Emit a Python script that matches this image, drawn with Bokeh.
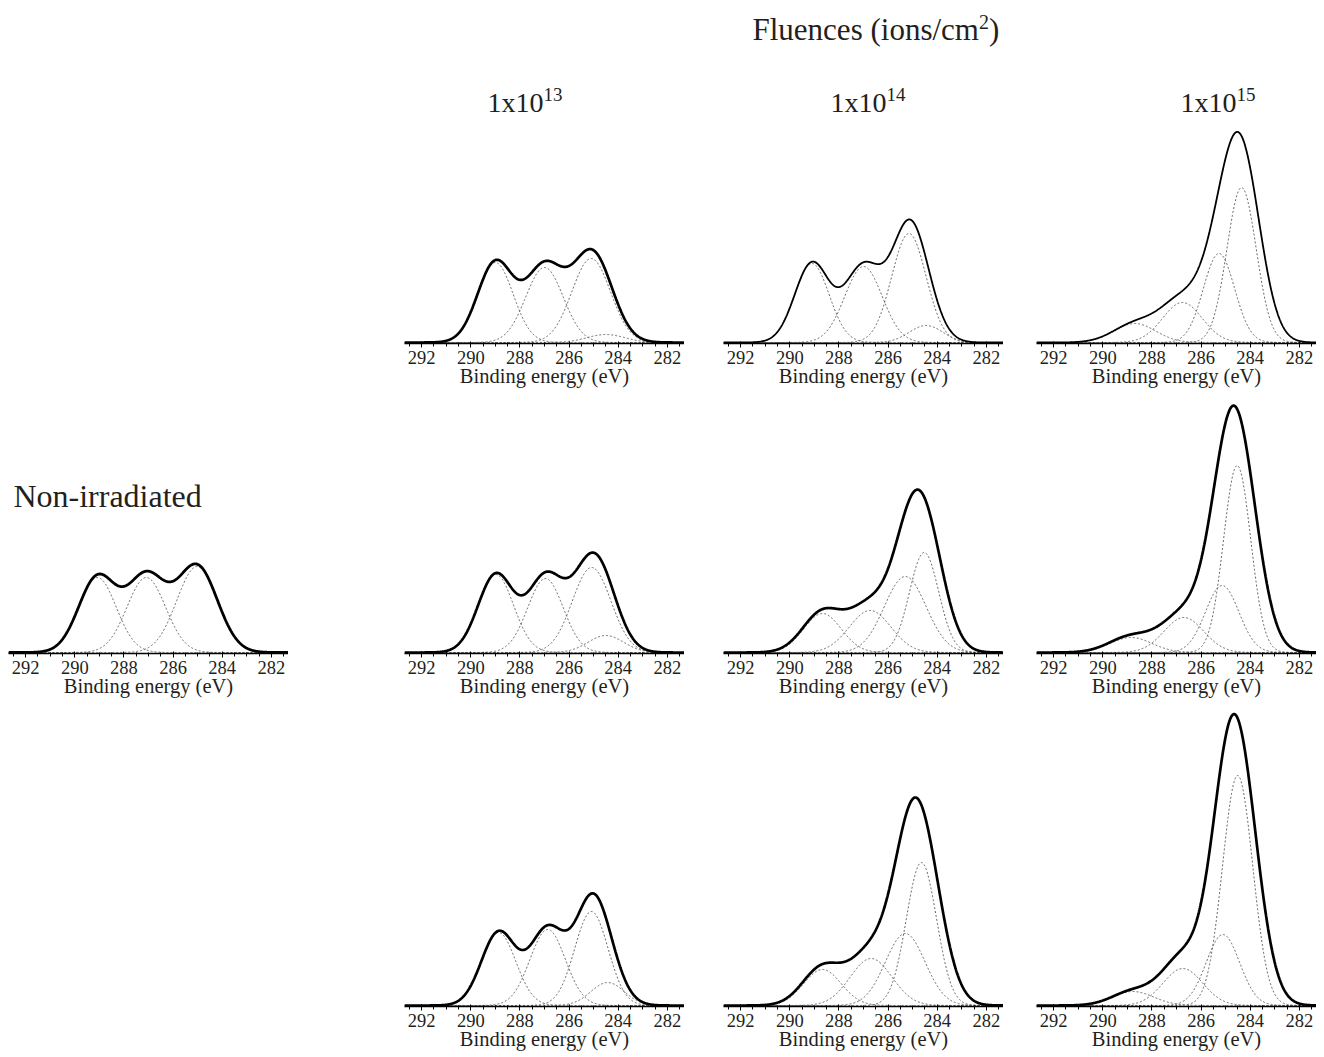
import numpy as np
from bokeh.plotting import figure
from bokeh.layouts import column, row
from bokeh.models import Range1d, FixedTicker, Spacer
from bokeh.core.properties import value
from bokeh.embed import file_html
from bokeh.resources import INLINE

# ---------------- data ----------------
x_major_ticks = [282, 284, 286, 288, 290, 292]
x_minor_ticks = [281.5, 282.5, 283.0, 283.5, 284.5, 285.0, 285.5, 286.5, 287.0, 287.5,
                 288.5, 289.0, 289.5, 290.5, 291.0, 291.5, 292.5]
x_label = "Binding energy (eV)"
main_title = "Fluences (ions/cm"
main_title_sup = "2"
col_title_base = ["1x10", "1x10", "1x10"]
col_title_exp = ["13", "14", "15"]
row_label = "Non-irradiated"

# fitted component peaks (dotted): centre (eV), height (a.u.), FWHM (eV)
# measured envelope (solid): height / FWHM of its contributions at the same centres
ni_center = [289.08, 287.09, 285.02]
ni_height = [75, 75, 86]
ni_fwhm = [1.8, 1.85, 1.95]

a13_center = [289.0, 287.0, 285.1, 284.5]
a13_height = [80, 75, 84, 8]
a13_fwhm = [1.7, 1.8, 1.85, 1.8]

a14_center = [289.1, 287.0, 285.15, 284.45]
a14_height = [79, 76, 109, 17]
a14_fwhm = [1.65, 1.8, 1.65, 1.6]

a15_center = [288.7, 286.76, 285.27, 284.35]
a15_height = [19, 40, 89, 155]
a15_fwhm = [2.0, 1.9, 1.5, 1.4]
a15_env_height = [18, 42, 57, 180]
a15_env_fwhm = [2.1, 2.1, 1.7, 1.8]

b13_center = [288.98, 286.96, 285.08, 284.5]
b13_height = [78, 74, 85, 17]
b13_fwhm = [1.7, 1.7, 1.85, 1.7]

b14_center = [288.67, 286.73, 285.3, 284.53]
b14_height = [39, 42, 76, 100]
b14_fwhm = [1.8, 2.0, 2.0, 1.4]
b14_env_height = [40, 46, 55, 125]
b14_env_fwhm = [1.9, 2.0, 1.6, 1.8]

b15_center = [288.85, 286.7, 285.14, 284.53]
b15_height = [15, 35, 67, 187]
b15_fwhm = [2.0, 1.9, 1.6, 1.3]
b15_env_height = [16, 38, 52, 205]
b15_env_fwhm = [2.1, 2.1, 1.7, 1.9]

c13_center = [288.87, 286.87, 285.09, 284.43]
c13_height = [73, 76, 94, 23]
c13_fwhm = [1.65, 1.7, 1.6, 1.6]

c14_center = [288.67, 286.69, 285.3, 284.64]
c14_height = [36, 47, 72, 143]
c14_fwhm = [1.8, 2.0, 1.9, 1.45]
c14_env_height = [38, 52, 60, 160]
c14_env_fwhm = [1.9, 2.0, 1.6, 1.9]

c15_center = [288.78, 286.74, 285.11, 284.51]
c15_height = [14, 37, 71, 230]
c15_fwhm = [2.0, 1.9, 1.6, 1.45]
c15_env_height = [14, 48, 60, 245]
c15_env_fwhm = [2.0, 2.0, 1.6, 1.9]

# ---------------- styling / layout ----------------
SERIF = "Liberation Serif"
TXT = "#231f20"
FW = 280
X_LO, X_HI = 281.3, 292.7
xs = np.linspace(X_LO, X_HI, 700)


def gauss(x, c, h, w):
    return h * np.exp(-4.0 * np.log(2.0) * (x - c) ** 2 / w ** 2)


def panel(center, height, fwhm, frame_h, bottom, env_w, env_height=None, env_fwhm=None):
    p = figure(frame_width=FW, frame_height=frame_h,
               x_range=Range1d(X_HI, X_LO), y_range=Range1d(-1, frame_h - 1),
               output_backend="svg", toolbar_location=None,
               y_axis_location=None,
               min_border_left=0, min_border_right=0, min_border_top=0,
               min_border_bottom=bottom)
    p.grid.visible = False
    p.outline_line_color = None
    p.background_fill_color = "white"
    p.border_fill_color = "white"
    ax = p.xaxis[0]
    ax.ticker = FixedTicker(ticks=x_major_ticks, minor_ticks=x_minor_ticks)
    ax.axis_label = x_label
    ax.axis_label_text_font = SERIF
    ax.axis_label_text_font_style = "normal"
    ax.axis_label_text_font_size = "20.5px"
    ax.axis_label_text_color = TXT
    ax.major_label_text_font = SERIF
    ax.major_label_text_font_size = "18.5px"
    ax.major_label_text_color = TXT
    ax.axis_line_width = 1.7
    ax.axis_line_color = "black"
    ax.major_tick_line_color = "black"
    ax.minor_tick_line_color = "black"
    ax.major_tick_in = 2
    ax.major_tick_out = 4
    ax.minor_tick_in = 1
    ax.minor_tick_out = 3
    ax.major_label_standoff = 3
    ax.axis_label_standoff = -2
    for c, h, w in zip(center, height, fwhm):
        p.line(xs, gauss(xs, c, h, w), line_color="#555555", line_width=0.9,
               line_dash="2 2")
    eh = height if env_height is None else env_height
    ew = fwhm if env_fwhm is None else env_fwhm
    total = np.zeros_like(xs)
    for c, h, w in zip(center, eh, ew):
        total += gauss(xs, c, h, w)
    p.line(xs, total, line_color="black", line_width=env_w)
    return p


H1, B1 = 218, 57
H2, B2 = 253, 53
H3, B3 = 300, 50

# header (data units = page pixels)
HW, HH = 1316, 125
hdr = figure(width=HW, height=HH, x_range=Range1d(0, HW), y_range=Range1d(0, HH),
             output_backend="svg", toolbar_location=None,
             x_axis_location=None, y_axis_location=None, min_border=0)
hdr.grid.visible = False
hdr.outline_line_color = None
big = 31
tx = 752
w_main = 7.305 * big
hdr.text(x=[tx], y=[HH - 29], text=[main_title], text_font=value(SERIF),
         text_font_size=value(f"{big}px"), text_color=TXT,
         text_align="left", text_baseline="middle")
hdr.text(x=[tx + w_main], y=[HH - 21], text=[main_title_sup], text_font=value(SERIF),
         text_font_size=value("20px"), text_color=TXT,
         text_align="left", text_baseline="middle")
hdr.text(x=[tx + w_main + 10], y=[HH - 29], text=[")"], text_font=value(SERIF),
         text_font_size=value(f"{big}px"), text_color=TXT,
         text_align="left", text_baseline="middle")
ct = 28
col_x = [487, 830, 1180]
hdr.text(x=col_x, y=[HH - 102] * 3, text=col_title_base, text_font=value(SERIF),
         text_font_size=value(f"{ct}px"), text_color=TXT,
         text_align="left", text_baseline="middle")
hdr.text(x=[c + 2.0 * ct for c in col_x], y=[HH - 94] * 3, text=col_title_exp,
         text_font=value(SERIF), text_font_size=value("19px"), text_color=TXT,
         text_align="left", text_baseline="middle")

# panels
p_a13 = panel(a13_center, a13_height, a13_fwhm, H1, B1, 2.7)
p_a14 = panel(a14_center, a14_height, a14_fwhm, H1, B1, 1.8)
p_a15 = panel(a15_center, a15_height, a15_fwhm, H1, B1, 1.8, a15_env_height, a15_env_fwhm)

p_ni = panel(ni_center, ni_height, ni_fwhm, H2, B2, 2.8)
p_ni.text(x=[292.5], y=[157], text=[row_label], text_font=value(SERIF),
          text_font_size=value("32px"), text_color=TXT,
          text_align="left", text_baseline="middle")
p_b13 = panel(b13_center, b13_height, b13_fwhm, H2, B2, 2.7)
p_b14 = panel(b14_center, b14_height, b14_fwhm, H2, B2, 2.7, b14_env_height, b14_env_fwhm)
p_b15 = panel(b15_center, b15_height, b15_fwhm, H2, B2, 2.7, b15_env_height, b15_env_fwhm)

p_c13 = panel(c13_center, c13_height, c13_fwhm, H3, B3, 2.7)
p_c14 = panel(c14_center, c14_height, c14_fwhm, H3, B3, 2.7, c14_env_height, c14_env_fwhm)
p_c15 = panel(c15_center, c15_height, c15_fwhm, H3, B3, 2.7, c15_env_height, c15_env_fwhm)

L0, G1, G2, G3 = 8, 116, 39, 33


def sp(w):
    return Spacer(width=w, height=1)


r1 = row(sp(L0), Spacer(width=FW, height=1), sp(G1), p_a13, sp(G2), p_a14, sp(G3), p_a15)
r2 = row(sp(L0), p_ni, sp(G1), p_b13, sp(G2), p_b14, sp(G3), p_b15)
r3 = row(sp(L0), Spacer(width=FW, height=1), sp(G1), p_c13, sp(G2), p_c14, sp(G3), p_c15)

layout = column(hdr, r1, r2, r3)

with open("out.html", "w") as f:
    f.write(file_html(layout, INLINE))
